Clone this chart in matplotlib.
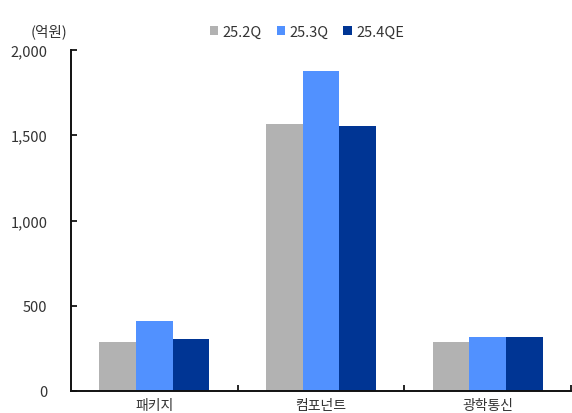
import matplotlib
matplotlib.use("Agg")
import matplotlib.pyplot as plt
import numpy as np
from matplotlib.patches import Patch

plt.rcParams['font.family'] = ['Noto Sans CJK KR', 'DejaVu Sans']

categories = ["패키지", "컴포넌트", "광학통신"]
series_names = ["25.2Q", "25.3Q", "25.4QE"]
q2_values = [285, 1565, 285]
q3_values = [413, 1878, 315]
q4e_values = [305, 1555, 315]
y_ticks = [0, 500, 1000, 1500, 2000]
y_tick_labels = ["0", "500", "1,000", "1,500", "2,000"]
unit_label = "(억원)"

colors = ["#b2b2b2", "#5191ff", "#003594"]
text_color = "#333333"

fig = plt.figure(figsize=(5.72, 4.14), dpi=100)
ax = fig.add_axes([71 / 572, 22 / 414, 500 / 572, 341 / 414])

x = np.arange(len(categories))
width = 0.22
for i, (vals, col) in enumerate(zip([q2_values, q3_values, q4e_values], colors)):
    ax.bar(x + (i - 1) * width, vals, width=width, color=col, edgecolor="none")

ax.set_xlim(-0.5, len(categories) - 0.5)
ax.set_ylim(0, 2000)

ax.spines['top'].set_visible(False)
ax.spines['right'].set_visible(False)
for s in ('left', 'bottom'):
    ax.spines[s].set_color("#111111")
    ax.spines[s].set_linewidth(1.4)

ax.set_yticks(y_ticks)
ax.set_yticklabels(y_tick_labels)
ax.tick_params(axis='y', direction='in', length=4, width=1.2, pad=17,
               labelsize=10.5, labelcolor=text_color)

# category labels at group centres, boundary ticks between groups
ax.set_xticks(x)
ax.set_xticklabels(categories)
ax.tick_params(axis='x', which='major', length=0, pad=5, labelsize=10,
               labelcolor=text_color)
ax.set_xticks(x + 0.5, minor=True)
ax.tick_params(axis='x', which='minor', direction='in', length=4, width=1.2)

fig.text(49 / 572, 1 - 32 / 414, unit_label, ha='center', va='center',
         fontsize=10.5, color=text_color)

handles = [Patch(facecolor=c, edgecolor='none') for c in colors]
fig.legend(handles, series_names, loc='center', bbox_to_anchor=(307 / 572, 1 - 33 / 414),
           ncol=3, frameon=False, handlelength=0.6, handleheight=0.6,
           handletextpad=0.3, columnspacing=1.0, fontsize=10.5,
           labelcolor=text_color)

fig.savefig("out.png", dpi=100)
